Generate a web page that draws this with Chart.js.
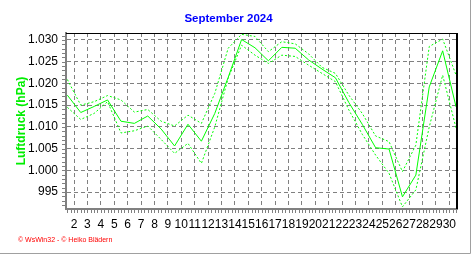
<!DOCTYPE html>
<html>
<head>
<meta charset="utf-8">
<script src="https://cdn.jsdelivr.net/npm/chart.js@4/dist/chart.umd.min.js"></script>
<style>
  html, body { margin: 0; padding: 0; background: #fff; }
</style>
</head>
<body>
<canvas id="chart" width="472" height="255"></canvas>
<script>
// Luftdruck September 2024, Tageswerte (Mittel, Max, Min) in hPa
const days = [1, 2, 3, 4, 5, 6, 7, 8, 9, 10, 11, 12, 13, 14, 15,
              16, 17, 18, 19, 20, 21, 22, 23, 24, 25, 26, 27, 28, 29, 30];
const pressureAvg = [1017.3, 1013.3, 1014.7, 1016.2, 1011.3, 1010.8, 1012.5, 1009.5, 1005.6, 1010.6,
                     1006.7, 1013.1, 1021.4, 1030.1, 1028.2, 1025.2, 1028.3, 1028.1, 1025.4, 1023.3,
                     1021.3, 1015.6, 1010.6, 1005.2, 1004.9, 993.9, 998.9, 1019.2, 1027.5, 1014.6];
const pressureMax = [1020.9, 1015.0, 1015.8, 1017.2, 1016.2, 1013.4, 1014.0, 1011.3, 1010.2, 1012.7,
                     1010.8, 1017.7, 1028.1, 1031.3, 1030.8, 1027.3, 1029.6, 1029.1, 1026.8, 1023.7,
                     1022.3, 1017.3, 1013.1, 1007.9, 1006.6, 999.7, 1005.8, 1028.5, 1030.2, 1021.9];
const pressureMin = [1014.5, 1011.7, 1013.1, 1015.8, 1008.6, 1009.1, 1010.2, 1007.1, 1003.9, 1006.2,
                     1001.6, 1010.0, 1021.2, 1028.8, 1026.5, 1024.6, 1026.5, 1026.2, 1024.2, 1022.3,
                     1020.4, 1013.9, 1008.3, 1003.5, 999.3, 991.6, 995.5, 1010.0, 1021.9, 1009.7];

const xTicks = [2, 3, 4, 5, 6, 7, 8, 9, 10, 11, 12, 13, 14, 15, 16,
                17, 18, 19, 20, 21, 22, 23, 24, 25, 26, 27, 28, 29, 30];
const yTicks = [995, 1000, 1005, 1010, 1015, 1020, 1025, 1030];
const yTickLabels = ['995', '1.000', '1.005', '1.010', '1.015', '1.020', '1.025', '1.030'];

const GREEN = '#00ff00';
const FONT = '"Liberation Sans", Arial, sans-serif';

// values are daily, plotted at noon of each day
const toPoints = arr => arr.map((v, i) => ({ x: days[i] + 0.5, y: v }));

const extras = {
  id: 'extras',
  afterDraw(chart) {
    const { ctx, chartArea: a, scales: { x, y } } = chart;
    ctx.save();
    // small ticks on the axes
    ctx.strokeStyle = '#808080';
    ctx.lineWidth = 1;
    ctx.beginPath();
    for (let v = Math.ceil(y.min); v <= y.max; v++) {
      const py = Math.round(y.getPixelForValue(v)) + 0.5;
      ctx.moveTo(a.left - 4, py);
      ctx.lineTo(a.left - 1, py);
    }
    for (let d = x.min; d <= x.max; d += 0.25) {
      const px = Math.round(x.getPixelForValue(Math.round(d * 4) / 4)) + 0.5;
      ctx.moveTo(px, a.bottom + 1);
      ctx.lineTo(px, a.bottom + 4);
    }
    ctx.stroke();
    // black frame top / right
    ctx.strokeStyle = '#000';
    ctx.lineWidth = 1;
    ctx.beginPath();
    ctx.moveTo(a.left, a.top + 0.5);
    ctx.lineTo(a.right + 1, a.top + 0.5);
    ctx.stroke();
    ctx.lineWidth = 2;
    ctx.beginPath();
    ctx.moveTo(a.right, a.top);
    ctx.lineTo(a.right, a.bottom);
    ctx.stroke();
    // outer panel edge
    ctx.strokeStyle = '#a0a0a0';
    ctx.lineWidth = 1;
    ctx.beginPath();
    ctx.moveTo(470.5, 0);
    ctx.lineTo(470.5, 253.5);
    ctx.lineTo(0, 253.5);
    ctx.stroke();
    // footer
    ctx.fillStyle = '#ff0000';
    ctx.font = '7px ' + FONT;
    ctx.textBaseline = 'middle';
    ctx.fillText('\u00a9 WsWin32 - \u00a9 Heiko Blädern', 18, 240);
    ctx.restore();
  }
};

new Chart(document.getElementById('chart'), {
  type: 'line',
  data: {
    datasets: [
      { label: 'Mittel', data: toPoints(pressureAvg), borderColor: GREEN, borderWidth: 1 },
      { label: 'Max', data: toPoints(pressureMax), borderColor: GREEN, borderWidth: 1, borderDash: [2, 2] },
      { label: 'Min', data: toPoints(pressureMin), borderColor: GREEN, borderWidth: 1, borderDash: [2, 2] }
    ]
  },
  options: {
    responsive: false,
    animation: false,
    elements: { point: { radius: 0 }, line: { tension: 0, fill: false } },
    layout: { padding: { left: 0, right: 15, top: 0, bottom: 0 } },
    plugins: {
      legend: { display: false },
      tooltip: { enabled: false },
      title: {
        display: true,
        text: 'September 2024',
        color: '#0000ff',
        font: { family: FONT, size: 11.5, weight: 'bold' },
        padding: { top: 12.2, bottom: 7 }
      }
    },
    scales: {
      x: {
        type: 'linear',
        min: 1.4,
        max: 30.57,
        afterFit(s) { s.height = 46; },
        afterBuildTicks(s) { s.ticks = xTicks.map(v => ({ value: v })); },
        grid: { color: '#808080', drawTicks: false },
        border: { color: '#808080', width: 2, dash: [4, 3] },
        ticks: {
          autoSkip: false, maxRotation: 0, padding: 8,
          color: '#000', font: { family: FONT, size: 12 },
          callback: v => String(v)
        }
      },
      y: {
        min: 991.1,
        max: 1031.6,
        afterFit(s) { s.width = 66; },
        afterBuildTicks(s) { s.ticks = yTicks.map(v => ({ value: v })); },
        grid: { color: '#808080', drawTicks: false },
        border: { color: '#808080', width: 2, dash: [4, 3] },
        ticks: {
          padding: 8, color: '#000', font: { family: FONT, size: 12 },
          callback: v => yTickLabels[yTicks.indexOf(v)]
        },
        title: {
          display: true,
          text: 'Luftdruck (hPa)',
          color: '#00ee00',
          font: { family: FONT, size: 12, weight: 'bold' },
          padding: { top: 14.3, bottom: 0 }
        }
      }
    }
  },
  plugins: [extras]
});
</script>
</body>
</html>
